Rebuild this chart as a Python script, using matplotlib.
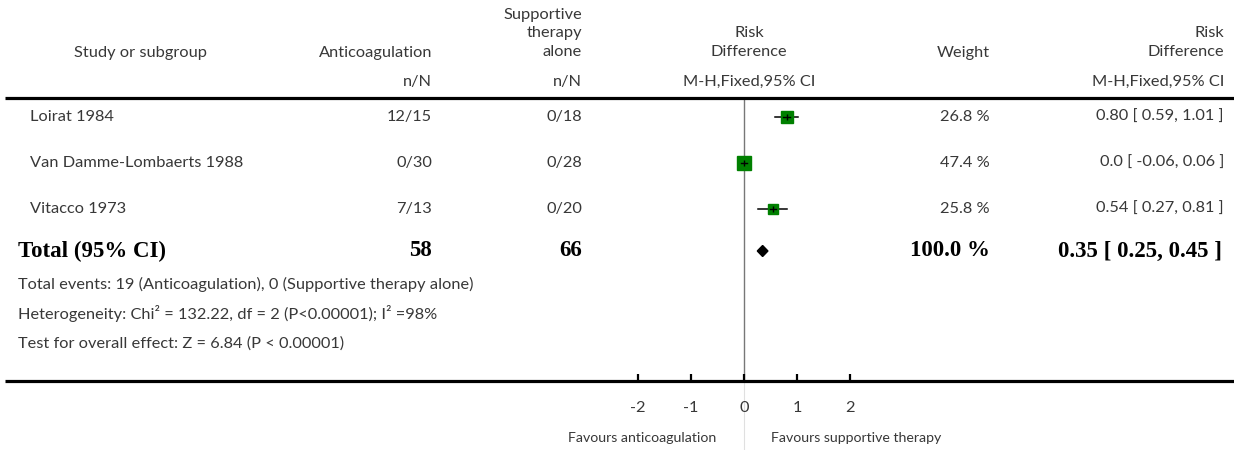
import matplotlib
matplotlib.use("Agg")
import matplotlib.pyplot as plt
from matplotlib.patches import Polygon
import matplotlib.transforms as mtransforms

# ---- data ----
studies = ["Loirat 1984", "Van Damme-Lombaerts 1988", "Vitacco 1973"]
antico = ["12/15", "0/30", "7/13"]
support = ["0/18", "0/28", "0/20"]
weights = [26.8, 47.4, 25.8]
est = [0.80, 0.0, 0.54]
lo = [0.59, -0.06, 0.27]
hi = [1.01, 0.06, 0.81]
ci_text = ["0.80 [ 0.59, 1.01 ]", "0.0 [ -0.06, 0.06 ]", "0.54 [ 0.27, 0.81 ]"]
total_n = ["58", "66"]
total_est, total_lo, total_hi = 0.35, 0.25, 0.45
total_weight = "100.0 %"
total_ci = "0.35 [ 0.25, 0.45 ]"
footer = ["Total events: 19 (Anticoagulation), 0 (Supportive therapy alone)",
          "Heterogeneity: Chi² = 132.22, df = 2 (P<0.00001); I² =98%",
          "Test for overall effect: Z = 6.84 (P < 0.00001)"]
ticks = [-2, -1, 0, 1, 2]
tick_labels = ["-2", "-1", "0", "1", "2"]

W, H = 1234, 450
fig = plt.figure(figsize=(W / 100, H / 100), dpi=100)
ax = fig.add_axes([0, 0, 1, 1])
ax.axis("off")
# scale: 0 at x=744 px, 53.2 px per unit
zero_px, unit_px = 744, 53.2
ax.set_xlim(-zero_px / unit_px, (W - zero_px) / unit_px)
ax.set_ylim(H, 0)

FONT = ["Lato", "DejaVu Sans"]
SERIF = ["Liberation Serif", "DejaVu Serif"]
TC = "#383838"
fs = 11.8
tr = mtransforms.blended_transform_factory(fig.transFigure, ax.transData)

def T(xpx, y, s, ha="left", bold=False, size=None, va="center"):
    if bold:
        ax.text(xpx / W, y, s, transform=tr, ha=ha, va=va, fontsize=size or 16.5,
                family=SERIF, fontweight="bold", color="black")
    else:
        ax.text(xpx / W, y, s, transform=tr, ha=ha, va=va, fontsize=size or fs,
                family=FONT, fontweight="normal", color=TC)

# header
T(140, 53, "Study or subgroup", ha="center")
T(432, 53, "Anticoagulation", ha="right")
T(582, 15, "Supportive", ha="right")
T(582, 33, "therapy", ha="right")
T(582, 52, "alone", ha="right")
T(432, 82, "n/N", ha="right")
T(582, 82, "n/N", ha="right")
T(749, 33, "Risk", ha="center")
T(749, 52, "Difference", ha="center")
T(749, 82, "M-H,Fixed,95% CI", ha="center")
T(990, 53, "Weight", ha="right")
T(1224, 33, "Risk", ha="right")
T(1224, 52, "Difference", ha="right")
T(1224, 82, "M-H,Fixed,95% CI", ha="right")

xmin, xmax = ax.get_xlim()
ax.plot([xmin + 5 / unit_px, xmax], [98, 98], color="black", lw=2.3, solid_capstyle="butt")
ax.plot([xmin + 5 / unit_px, xmax], [381, 381], color="black", lw=2.3, solid_capstyle="butt")

# zero line
ax.plot([0, 0], [100, 381], color="#777777", lw=1.0, zorder=1)
ax.plot([0, 0], [381, 450], color="#e0e0e0", lw=0.8, zorder=1)

row_y = [117 + 46 * i for i in range(len(studies))]
for i, y in enumerate(row_y):
    T(30, y, studies[i])
    T(432, y, antico[i], ha="right")
    T(582, y, support[i], ha="right")
    T(990, y, f"{weights[i]} %", ha="right")
    T(1224, y, ci_text[i], ha="right")
    ax.plot([lo[i], hi[i]], [y, y], color="black", lw=1.1, zorder=2)
    size_px = 2.15 * weights[i] ** 0.5
    ax.plot(est[i], y, marker="s", ms=size_px * 0.72, color="#008000",
            mec="#008000", zorder=3, ls="none")
    ax.plot(est[i], y, marker="|", ms=4, color="black", mew=1.0, zorder=4, ls="none")
    ax.plot([max(lo[i], est[i] - 0.06), min(hi[i], est[i] + 0.06)], [y, y],
            color="black", lw=1.0, zorder=4)

# total
ty = 251
T(18, ty, "Total (95% CI)", bold=True)
T(432, ty, total_n[0], ha="right", bold=True)
T(582, ty, total_n[1], ha="right", bold=True)
T(990, ty, total_weight, ha="right", bold=True)
T(1222, ty, total_ci, ha="right", bold=True)
hh = 5.5
ax.add_patch(Polygon([[total_lo, ty], [total_est, ty - hh], [total_hi, ty], [total_est, ty + hh]],
                     closed=True, color="black", zorder=3))

for j, s in enumerate(footer):
    T(18, 284 + 30 * j, s)

# axis ticks
for t, lab in zip(ticks, tick_labels):
    ax.plot([t, t], [381, 374], color="black", lw=1.6, solid_capstyle="butt")
    ax.text(t, 408, lab, ha="center", va="center", fontsize=fs, family=FONT,
            fontweight="normal", color=TC)
T(716, 438, "Favours anticoagulation", ha="right", size=10.2)
T(771, 438, "Favours supportive therapy", ha="left", size=10.2)

fig.savefig("out.png", dpi=100)
